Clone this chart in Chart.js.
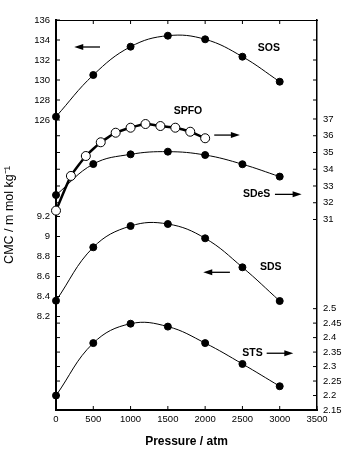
<!DOCTYPE html>
<html>
<head>
<meta charset="utf-8">
<script src="https://cdn.jsdelivr.net/npm/chart.js@4"></script>
<style>
  body { margin: 0; background: #fff; }
</style>
</head>
<body>
<canvas id="cmcChart" width="350" height="453"></canvas>
<script>
// pressure grid (atm)
const pressure = [0, 500, 1000, 1500, 2000, 2500, 3000];
const spfoPressure = [0, 200, 400, 600, 800, 1000, 1200, 1400, 1600, 1800, 2000];

// CMC values
const sos = [126.33, 130.5, 133.33, 134.43, 134.07, 132.33, 129.83];
const spfo = [31.53, 33.6, 34.79, 35.61, 36.18, 36.48, 36.7, 36.58, 36.48, 36.24, 35.85];
const sdes = [32.46, 34.31, 34.89, 35.05, 34.85, 34.3, 33.56];
const sds = [8.358, 8.892, 9.105, 9.125, 8.982, 8.692, 8.355];
const sts = [2.2, 2.381, 2.448, 2.438, 2.381, 2.309, 2.232];

// tick labels
const pressureTicks = [0, 500, 1000, 1500, 2000, 2500, 3000, 3500];
const sosTicks = [126, 128, 130, 132, 134, 136];
const sdsTicks = [8.2, 8.4, 8.6, 8.8, 9, 9.2];
const midTicks = [31, 32, 33, 34, 35, 36, 37];
const stsTicks = [2.15, 2.2, 2.25, 2.3, 2.35, 2.4, 2.45, 2.5];

const FONT = "'Liberation Sans', Arial, sans-serif";

// series names and arrows, placed in data units of their own axis
const notes = [
  { text: 'SOS', axis: 'ySOS', x: 2855, y: 133.2 },
  { text: 'SPFO', axis: 'yMid', x: 1770, y: 37.48 },
  { text: 'SDeS', axis: 'yMid', x: 2690, y: 32.5 },
  { text: 'SDS', axis: 'ySDS', x: 2880, y: 8.69 },
  { text: 'STS', axis: 'ySTS', x: 2634, y: 2.346 }
];
const arrows = [
  { axis: 'ySOS', from: 590, to: 245, y: 133.3 },
  { axis: 'yMid', from: 2122, to: 2466, y: 36.04 },
  { axis: 'yMid', from: 2936, to: 3294, y: 32.5 },
  { axis: 'ySDS', from: 2332, to: 1975, y: 8.642 },
  { axis: 'ySTS', from: 2825, to: 3182, y: 2.346 }
];

function pts(xs, ys) {
  return xs.map((x, i) => ({ x: x, y: ys[i] }));
}

function setTicks(list) {
  return function (scale) {
    scale.ticks = list.map(v => ({ value: v }));
  };
}

function yAxis(position, min, max, list, opts) {
  return Object.assign({
    type: 'linear',
    position: position,
    min: min,
    max: max,
    weight: 0,
    afterBuildTicks: setTicks(list),
    afterFit: s => { s.width = 0; },
    grid: { display: true, drawOnChartArea: false, drawTicks: false },
    border: { display: false },
    ticks: {
      display: true,
      autoSkip: false,
      padding: 6,
      color: '#000',
      font: { family: FONT, size: 9.5 },
      callback: v => String(v)
    }
  }, opts || {});
}

// all y axes share the plot edge; widen their boxes afterwards so labels are not clipped
const widenAxes = {
  id: 'widenAxes',
  afterLayout(chart) {
    Object.values(chart.scales).forEach(s => {
      if (s.isHorizontal()) return;
      if (s.position === 'left') s.left = 0;
      else s.right = chart.width;
    });
  }
};

// little tick marks pointing into the plot
const inwardTicks = {
  id: 'inwardTicks',
  beforeDatasetsDraw(chart) {
    const ctx = chart.ctx;
    const a = chart.chartArea;
    ctx.save();
    ctx.strokeStyle = '#000';
    ctx.lineWidth = 1;
    Object.values(chart.scales).forEach(s => {
      s.ticks.forEach(t => {
        const p = s.getPixelForValue(t.value);
        ctx.beginPath();
        if (s.isHorizontal()) {
          const y0 = s.position === 'top' ? a.top : a.bottom;
          const d = s.position === 'top' ? 4 : -4;
          ctx.moveTo(p, y0);
          ctx.lineTo(p, y0 + d);
        } else {
          const x0 = s.position === 'left' ? a.left : a.right;
          const d = s.position === 'left' ? 4 : -4;
          ctx.moveTo(x0, p);
          ctx.lineTo(x0 + d, p);
        }
        ctx.stroke();
      });
    });
    ctx.restore();
  }
};

// series names + arrows
const labelsPlugin = {
  id: 'seriesNotes',
  afterDatasetsDraw(chart) {
    const ctx = chart.ctx;
    const xs = chart.scales.x;
    ctx.save();
    ctx.fillStyle = '#000';
    ctx.strokeStyle = '#000';
    ctx.font = 'bold 10.5px ' + FONT;
    ctx.textAlign = 'center';
    ctx.textBaseline = 'middle';
    notes.forEach(n => {
      ctx.fillText(n.text, xs.getPixelForValue(n.x), chart.scales[n.axis].getPixelForValue(n.y));
    });
    arrows.forEach(ar => {
      const y = chart.scales[ar.axis].getPixelForValue(ar.y);
      const x1 = xs.getPixelForValue(ar.from);
      const x2 = xs.getPixelForValue(ar.to);
      const dir = x2 > x1 ? 1 : -1;
      ctx.lineWidth = 1.3;
      ctx.beginPath();
      ctx.moveTo(x1, y);
      ctx.lineTo(x2 - dir * 7, y);
      ctx.stroke();
      ctx.beginPath();
      ctx.moveTo(x2, y);
      ctx.lineTo(x2 - dir * 9, y - 3);
      ctx.lineTo(x2 - dir * 9, y + 3);
      ctx.closePath();
      ctx.fill();
    });
    ctx.restore();
  }
};

const filled = {
  borderColor: '#000',
  borderWidth: 1,
  pointRadius: 3.5,
  pointBackgroundColor: '#000',
  pointBorderColor: '#000',
  tension: 0.4,
  clip: false
};

new Chart(document.getElementById('cmcChart'), {
  type: 'line',
  data: {
    datasets: [
      Object.assign({ label: 'SPFO', data: pts(spfoPressure, spfo), yAxisID: 'yMid' }, filled, {
        borderWidth: 2.5, pointRadius: 4.5, pointBackgroundColor: '#fff', pointBorderWidth: 1, tension: 0.15
      }),
      Object.assign({ label: 'SOS', data: pts(pressure, sos), yAxisID: 'ySOS' }, filled),
      Object.assign({ label: 'SDeS', data: pts(pressure, sdes), yAxisID: 'yMid' }, filled),
      Object.assign({ label: 'SDS', data: pts(pressure, sds), yAxisID: 'ySDS' }, filled),
      Object.assign({ label: 'STS', data: pts(pressure, sts), yAxisID: 'ySTS' }, filled)
    ]
  },
  options: {
    responsive: false,
    animation: false,
    layout: { padding: { top: 20, right: 33, left: 0, bottom: 0 } },
    plugins: { legend: { display: false }, tooltip: { enabled: false } },
    scales: {
      x: {
        type: 'linear',
        position: 'bottom',
        min: 0,
        max: 3500,
        afterBuildTicks: setTicks(pressureTicks),
        afterFit: s => { s.height = 43; },
        grid: { display: true, drawOnChartArea: false, drawTicks: false },
        border: { display: true, width: 2, color: '#000' },
        ticks: {
          autoSkip: false,
          maxRotation: 0,
          padding: 4,
          color: '#000',
          font: { family: FONT, size: 9.5 },
          callback: v => String(v)
        },
        title: {
          display: true,
          text: 'Pressure / atm',
          color: '#000',
          font: { family: FONT, size: 12, weight: 'bold' },
          padding: { top: 0, bottom: 4 }
        }
      },
      xTop: {
        type: 'linear',
        position: 'top',
        min: 0,
        max: 3500,
        afterBuildTicks: setTicks(pressureTicks.slice(1, 7)),
        afterFit: s => { s.height = 0; },
        grid: { display: true, drawOnChartArea: false, drawTicks: false },
        border: { display: true, width: 1, color: '#000' },
        ticks: { display: false }
      },
      ySOS: yAxis('left', 97, 136, sosTicks, {
        weight: 2,
        afterFit: s => { s.width = 56; },
        border: { display: true, width: 2, color: '#000' },
        title: {
          display: true,
          text: 'CMC / m mol kg\u207B\u00B9',
          color: '#000',
          font: { family: FONT, size: 12.5 },
          padding: 2
        }
      }),
      ySDS: yAxis('left', 7.265, 11.165, sdsTicks, { weight: 1 }),
      yMidL: yAxis('left', 19.627, 42.91, midTicks.slice(1, 6), { ticks: { display: false } }),
      ySTSL: yAxis('left', 2.15, 3.4967, stsTicks.slice(1, 7), { ticks: { display: false } }),
      yMid: yAxis('right', 19.627, 42.91, midTicks, {
        border: { display: true, width: 1.5, color: '#000' }
      }),
      ySTS: yAxis('right', 2.15, 3.4967, stsTicks),
      ySOSR: yAxis('right', 97, 136, sosTicks.slice(1, 5), { ticks: { display: false } })
    }
  },
  plugins: [widenAxes, inwardTicks, labelsPlugin]
});
</script>
</body>
</html>
